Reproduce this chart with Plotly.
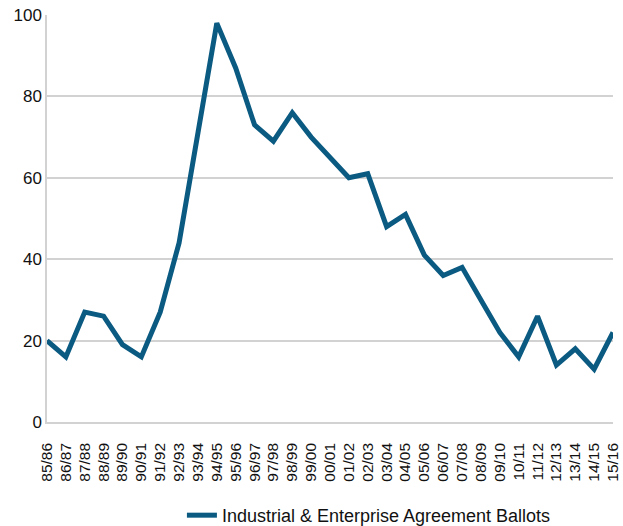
import plotly.graph_objects as go

years = ["85/86", "86/87", "87/88", "88/89", "89/90", "90/91", "91/92", "92/93",
         "93/94", "94/95", "95/96", "96/97", "97/98", "98/99", "99/00", "00/01",
         "01/02", "02/03", "03/04", "04/05", "05/06", "06/07", "07/08", "08/09",
         "09/10", "10/11", "11/12", "12/13", "13/14", "14/15", "15/16"]
ballots = [20, 16, 27, 26, 19, 16, 27, 44, 71, 98, 87, 73, 69, 76, 70, 65,
           60, 61, 48, 51, 41, 36, 38, 30, 22, 16, 26, 14, 18, 13, 22]
y_ticks = [0, 20, 40, 60, 80, 100]
series_name = "Industrial & Enterprise Agreement Ballots"

color = "#0a5a82"
grid = "#d2d2d2"
font = "Liberation Sans, Arial, Helvetica, sans-serif"

fig = go.Figure()
fig.add_trace(go.Scatter(
    x=years, y=ballots, mode="lines", name=series_name,
    line=dict(color=color, width=5),
    showlegend=True,
))

fig.update_layout(
    width=623, height=526,
    margin=dict(l=47, r=10, t=15, b=104),
    paper_bgcolor="white", plot_bgcolor="white",
    font=dict(family=font, size=16, color="#111111"),
    showlegend=True,
    legend=dict(
        orientation="h", xref="container", yref="container",
        x=0.292, xanchor="left", y=0.02, yanchor="middle",
        font=dict(size=18, color="#111111"),
        bgcolor="rgba(0,0,0,0)",
    ),
    xaxis=dict(
        type="category", range=[0, len(years) - 1], automargin=False,
        tickmode="array", tickvals=years, ticktext=years,
        showgrid=False, showline=True, linecolor=grid, linewidth=1.5,
        tickangle=-90, tickfont=dict(size=15.5), ticks="",
        ticklabelstandoff=13,
        zeroline=False,
    ),
    yaxis=dict(
        range=[0, 100], tickvals=y_ticks, automargin=False,
        showgrid=True, gridcolor=grid, gridwidth=1.5,
        showline=True, linecolor=grid, linewidth=1.5,
        zeroline=False, ticks="", tickfont=dict(size=17),
    ),
)

fig.write_html("out.html")
